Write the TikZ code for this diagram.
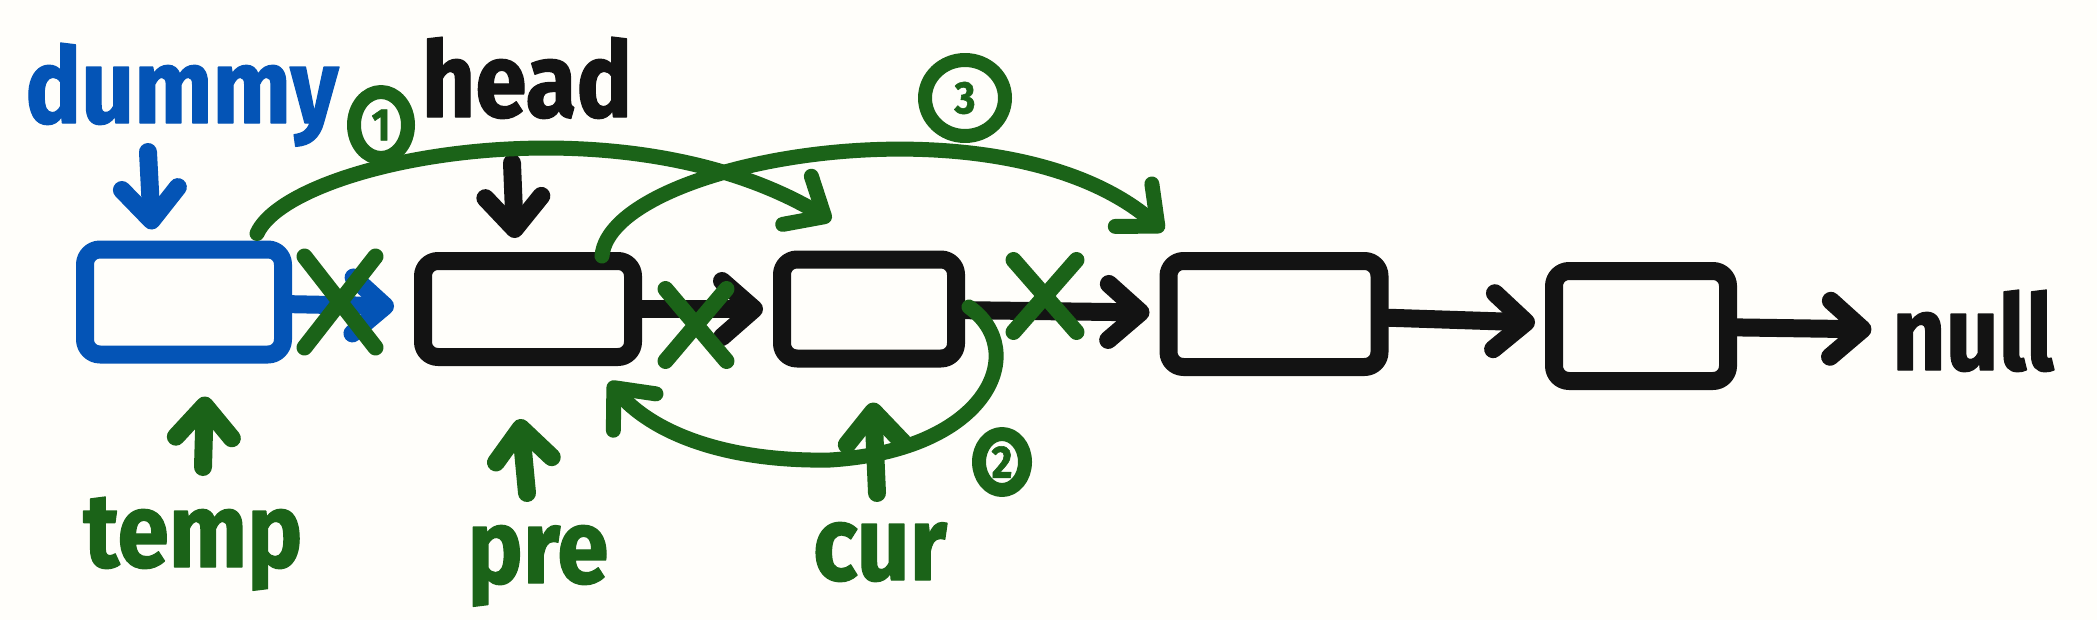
\documentclass[tikz,border=0pt]{standalone}
\usepackage{fontspec}
\newfontfamily\handfont{Fira Sans}[FakeStretch=0.88,FakeBold=1.2]
\usetikzlibrary{arrows.meta}
\usetikzlibrary{calc}
\usetikzlibrary{shapes.geometric,shapes.misc}
\definecolor{inkblue}{RGB}{4,84,182}
\definecolor{inkgreen}{RGB}{27,99,24}
\definecolor{inkblack}{RGB}{19,19,19}
\definecolor{paper}{RGB}{255,254,250}

\begin{document}
\begin{tikzpicture}
[x=0.1mm,y=-0.1mm,line cap=round,line join=round,%
  pen/.style={line width=1.8mm},%
  box/.style={shape=rectangle,draw=inkblack,pen,rounded corners=1.5mm,inner sep=0pt},%
  word/.style={font=\handfont\bfseries\fontsize{30}{30}\selectfont,inner sep=1mm,anchor=base},%
  arrowpen/.style={pen,-{Straight Barb[length=3.2mm,width=5.6mm,round]}},%
  link/.style={arrowpen,draw=inkblack,shorten >=1mm},%
  redo/.style={arrowpen,line width=1.5mm,draw=inkgreen},%
  cut/.style={shape=cross out,draw=inkgreen,line width=1.6mm,inner sep=0pt},%
  order/.style={shape=ellipse,draw=inkgreen,line width=1.4mm,inner sep=0pt,text=inkgreen,%
    font=\handfont\bfseries\fontsize{13}{13}\selectfont}]
\path[fill=paper,use as bounding box] (0,0) rectangle (2097,620);
%% list boxes
\node[box,draw=inkblue,minimum width=19.8mm,minimum height=10.5mm] (dummy) at (184,302) {};
\node[box,minimum width=21mm,minimum height=9.6mm] (head) at (528,309) {};
\node[box,minimum width=17.4mm,minimum height=9.9mm] (cur) at (869,309) {};
\node[box,minimum width=21.1mm,minimum height=10.6mm] (nxt) at (1274,314) {};
\node[box,minimum width=17.4mm,minimum height=11mm] (last) at (1641,326) {};
%% names
\node[word,text=inkblue] (dummylbl) at (182,123) {dummy};
\node[word,text=inkblack] (headlbl) at (527,117) {head};
\node[word,text=inkgreen] (templbl) at (193,567) {temp};
\node[word,text=inkgreen] (prelbl) at (538,583) {pre};
\node[word,text=inkgreen] (curlbl) at (880,580) {cur};
\node[word,text=inkblack] (nil) at (1973,370) {null};
%% steps
\node[order,minimum width=5.4mm,minimum height=6.6mm] (c1) at (381,125) {1};
\node[order,minimum width=4.6mm,minimum height=5.6mm] (c2) at (1002,462) {2};
\node[order,minimum width=8mm,minimum height=7.6mm] (c3) at (965,98) {3};
%% next pointers
\draw[link,draw=inkblue,shorten >=2mm] (dummy) -- (head);
\path
\foreach \from/\to in {head/cur, cur/nxt, nxt/last, last/nil}
{
  (\from) edge[link] (\to)
};
%% cut links
\node[cut,minimum width=5.5mm,minimum height=7.5mm] (x1) at (340,302) {};
\node[cut,minimum width=4.5mm,minimum height=5.6mm] (x2) at (696,325) {};
\node[cut,minimum width=4.7mm,minimum height=5.6mm] (x3) at (1045,296) {};
%% name pointers
\draw[arrowpen,inkblue] ($(dummylbl.base)+(-34,29)$) -- ($(dummy.north)+(-32,-11)$);
\draw[arrowpen,inkblack] ($(headlbl.base)+(-15,46)$) -- ($(head.north)+(-13,-14)$);
\draw[arrowpen,inkgreen] ($(templbl.base)+(10,-100)$) -- ($(dummy.south)+(21,33)$);
\draw[arrowpen,inkgreen] ($(prelbl.base)+(-11,-90)$) -- ($(head.south)+(-8,53)$);
\draw[arrowpen,inkgreen] ($(curlbl.base)+(-3,-87)$) -- ($(cur.south)+(4,35)$);
%% new links
\draw[redo] ($(dummy.north east)+(-35,-7)$) .. controls (290,160) and (620,95) .. ($(cur.north west)+(58,-30)$);
\draw[redo] ($(cur.east)+(4,-2)$) .. controls (1030,350) and (990,450) .. (830,460)
  .. controls (720,462) and (650,430) .. ($(head.south east)+(-33,16)$);
\draw[redo] ($(head.north east)+(-40,4)$) .. controls (610,160) and (1000,90) .. ($(nxt.north west)+(4,-21)$);
\end{tikzpicture}
\end{document}
